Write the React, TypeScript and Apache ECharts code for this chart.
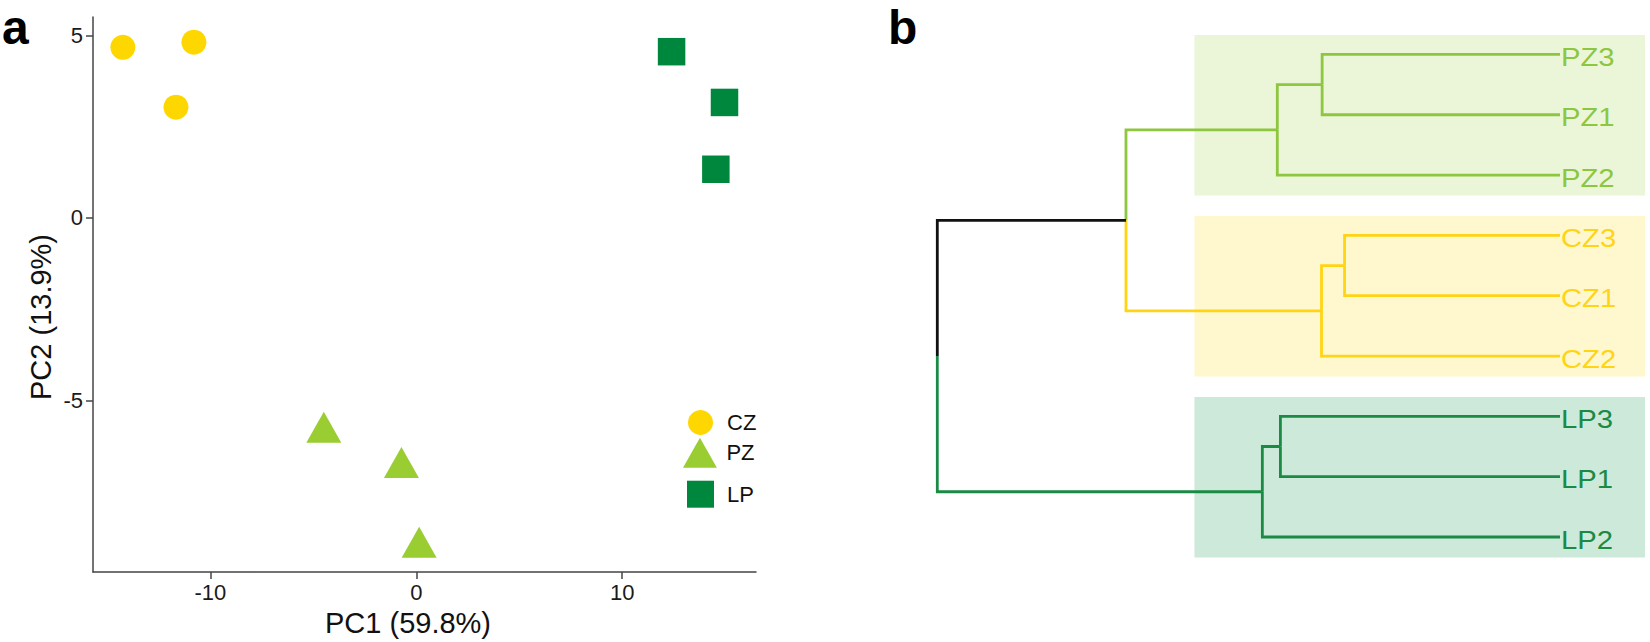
import React, { useEffect, useRef } from 'react';
import * as echarts from 'echarts';

// ---------- Panel a: PCA scores ----------
const czPoints = [[-14.25, 4.67], [-10.8, 4.81], [-11.67, 3.03]];
const pzPoints = [[-4.49, -5.87], [-0.72, -6.84], [0.14, -9.02]];
const lpPoints = [[12.4, 4.55], [14.97, 3.16], [14.55, 1.33]];
const xTicks = [-10, 0, 10];
const yTicks = [-5, 0, 5];
const xName = 'PC1 (59.8%)';
const yName = 'PC2 (13.9%)';

// ---------- Panel b: dendrogram ----------
const leaves = ['PZ3', 'PZ1', 'PZ2', 'CZ3', 'CZ1', 'CZ2', 'LP3', 'LP1', 'LP2'];
const leafGroups = ['PZ', 'PZ', 'PZ', 'CZ', 'CZ', 'CZ', 'LP', 'LP', 'LP'];
const mergeLeft = ['PZ3', 'm0', 'CZ3', 'm2', 'LP3', 'm4', 'm1', 'm6'];
const mergeRight = ['PZ1', 'PZ2', 'CZ1', 'CZ2', 'LP1', 'LP2', 'm3', 'm5'];
const mergeHeights = [38.2, 45.4, 34.6, 38.3, 44.9, 47.8, 69.7, 100];
const clusters = ['PZ', 'CZ', 'LP'];

const pointColors: Record<string, string> = { CZ: '#FFD700', PZ: '#9ACD32', LP: '#00873E' };
const treeColors: Record<string, string> = { PZ: '#8DC63F', CZ: '#FFD414', LP: '#1B8A45' };
const rectColors: Record<string, string> = { PZ: '#EBF6D9', CZ: '#FFF8CE', LP: '#CDE9DA' };
const rootColor = '#111111';

function buildTree() {
  const nodes: Record<string, { y: number; h: number; g: string | null }> = {};
  leaves.forEach((name, i) => {
    nodes[name] = { y: i, h: 0, g: leafGroups[i] };
  });
  const segs: number[][] = [];
  const segGroups: (string | null)[] = [];
  mergeLeft.forEach((l, k) => {
    const a = nodes[l];
    const b = nodes[mergeRight[k]];
    const h = mergeHeights[k];
    const y = (a.y + b.y) / 2;
    const g = a.g && a.g === b.g ? a.g : null;
    nodes['m' + k] = { y, h, g };
    [a, b].forEach((c) => {
      segs.push([h, y, c.y, c.h]);
      segGroups.push(c.g);
    });
  });
  return { segs, segGroups };
}

export default function App() {
  const ref = useRef<HTMLDivElement>(null);
  useEffect(() => {
    if (!ref.current) return;
    const chart = echarts.init(ref.current, undefined, { renderer: 'svg' });
    const { segs, segGroups } = buildTree();
    const clusterRanges = clusters.map((c) => {
      const idx = leafGroups.map((g, i) => (g === c ? i : -1)).filter((i) => i >= 0);
      return [Math.min(...idx), Math.max(...idx)];
    });
    const font = 'Liberation Sans';
    const rectLeftH = 58.7;
    const rectRightH = -13.65;
    const padTop = 0.32;
    const padBottom = 0.34;

    const legendBase = {
      orient: 'vertical',
      padding: 0,
      selectedMode: false,
    };
    const legendText = { fontSize: 22, color: '#111' };
    const panelLetter = { fontSize: 48, lineHeight: 36, fontWeight: 'bold', color: '#000', fontFamily: font };

    const option: any = {
      animation: false,
      textStyle: { fontFamily: font },
      title: [
        { text: 'a', left: 2, top: 9, padding: 0, textStyle: panelLetter },
        { text: 'b', left: 888, top: 9, padding: 0, textStyle: panelLetter },
      ],
      legend: [
        { ...legendBase, left: 688, top: 410, itemWidth: 25, itemHeight: 25, data: [{ name: 'CZ' }], textStyle: { ...legendText, padding: [12, 0, 0, 9] } },
        { ...legendBase, left: 683, top: 437.7, itemWidth: 35, itemHeight: 30, data: [{ name: 'PZ', icon: 'path://M17.5,0L35,31L0,31Z' }], textStyle: { ...legendText, padding: [28, 0, 0, 4] } },
        { ...legendBase, left: 687, top: 480.7, itemWidth: 27, itemHeight: 27, data: [{ name: 'LP' }], textStyle: { ...legendText, padding: [18, 0, 0, 8] } },
      ],
      grid: [
        { left: 93, right: 894, top: 17, bottom: 69 },
        { left: 937.3, right: 90, top: 54.4, bottom: 105 },
      ],
      xAxis: [
        {
          gridIndex: 0,
          type: 'value',
          min: -15.7,
          max: 16.5,
          name: xName,
          nameLocation: 'middle',
          nameGap: 36,
          nameTextStyle: { fontSize: 29, color: '#111', padding: [0, 33, 0, 0] },
          axisLine: { show: true, onZero: false, lineStyle: { color: '#444', width: 1.5 } },
          axisTick: { show: true, length: 7, customValues: xTicks, lineStyle: { color: '#444', width: 1.5 } },
          axisLabel: { customValues: xTicks, fontSize: 22, color: '#1a1a1a', margin: 9 },
          splitLine: { show: false },
        },
        {
          gridIndex: 1,
          type: 'value',
          min: 0,
          max: 100,
          inverse: true,
          show: false,
        },
      ],
      yAxis: [
        {
          gridIndex: 0,
          type: 'value',
          min: -9.7,
          max: 5.5,
          name: yName,
          nameLocation: 'middle',
          nameGap: 38,
          nameTextStyle: { fontSize: 29, color: '#111', padding: [0, 45, 0, 0] },
          axisLine: { show: true, onZero: false, lineStyle: { color: '#444', width: 1.5 } },
          axisTick: { show: true, length: 7, customValues: yTicks, lineStyle: { color: '#444', width: 1.5 } },
          axisLabel: { customValues: yTicks, fontSize: 22, color: '#1a1a1a', margin: 10 },
          splitLine: { show: false },
        },
        {
          gridIndex: 1,
          type: 'value',
          min: 0,
          max: leaves.length - 1,
          inverse: true,
          show: false,
        },
      ],
      series: [
        {
          name: 'CZ',
          type: 'scatter',
          xAxisIndex: 0,
          yAxisIndex: 0,
          symbol: 'circle',
          symbolSize: 25,
          itemStyle: { color: pointColors.CZ, opacity: 1 },
          data: czPoints,
        },
        {
          name: 'PZ',
          type: 'scatter',
          xAxisIndex: 0,
          yAxisIndex: 0,
          symbol: 'triangle',
          symbolSize: [35, 31],
          symbolOffset: [0, -5],
          itemStyle: { color: pointColors.PZ, opacity: 1 },
          data: pzPoints,
        },
        {
          name: 'LP',
          type: 'scatter',
          xAxisIndex: 0,
          yAxisIndex: 0,
          symbol: 'rect',
          symbolSize: 27.5,
          itemStyle: { color: pointColors.LP, opacity: 1 },
          data: lpPoints,
        },
        {
          type: 'custom',
          name: 'clusters',
          xAxisIndex: 1,
          yAxisIndex: 1,
          clip: false,
          z: 1,
          silent: true,
          data: clusterRanges,
          renderItem: (params: any, api: any) => {
            const first = api.value(0);
            const last = api.value(1);
            const p1 = api.coord([rectLeftH, first - padTop]);
            const p2 = api.coord([rectRightH, last + padBottom]);
            return {
              type: 'rect',
              shape: { x: p1[0], y: p1[1], width: p2[0] - p1[0], height: p2[1] - p1[1] },
              style: { fill: rectColors[clusters[params.dataIndex]] },
            };
          },
        },
        {
          type: 'custom',
          name: 'tree',
          xAxisIndex: 1,
          yAxisIndex: 1,
          clip: false,
          z: 3,
          silent: true,
          data: segs,
          renderItem: (params: any, api: any) => {
            const h = api.value(0);
            const y = api.value(1);
            const cy = api.value(2);
            const ch = api.value(3);
            const g = segGroups[params.dataIndex];
            const p1 = api.coord([h, y]);
            const p2 = api.coord([h, cy]);
            const p3 = api.coord([ch, cy]);
            return {
              type: 'polyline',
              shape: { points: [p1, p2, p3] },
              style: { stroke: g ? treeColors[g] : rootColor, lineWidth: 2.8, fill: null, lineJoin: 'miter' },
            };
          },
        },
        {
          type: 'custom',
          name: 'leafLabels',
          xAxisIndex: 1,
          yAxisIndex: 1,
          clip: false,
          z: 4,
          silent: true,
          data: leaves.map((_, i) => [0, i]),
          renderItem: (params: any, api: any) => {
            const p = api.coord([api.value(0), api.value(1)]);
            const i = params.dataIndex;
            return {
              type: 'text',
              x: p[0] + 1,
              y: p[1] + 3,
              scaleX: 1.17,
              style: {
                text: leaves[i],
                fill: treeColors[leafGroups[i]],
                fontSize: 25,
                fontFamily: font,
                align: 'left',
                verticalAlign: 'middle',
              },
            };
          },
        },
      ],
    };
    chart.setOption(option);
    return () => chart.dispose();
  }, []);
  return (
    <div
      ref={ref}
      style={{ position: 'fixed', left: 0, top: 0, width: 1650, height: 642, background: '#fff' }}
    />
  );
}
